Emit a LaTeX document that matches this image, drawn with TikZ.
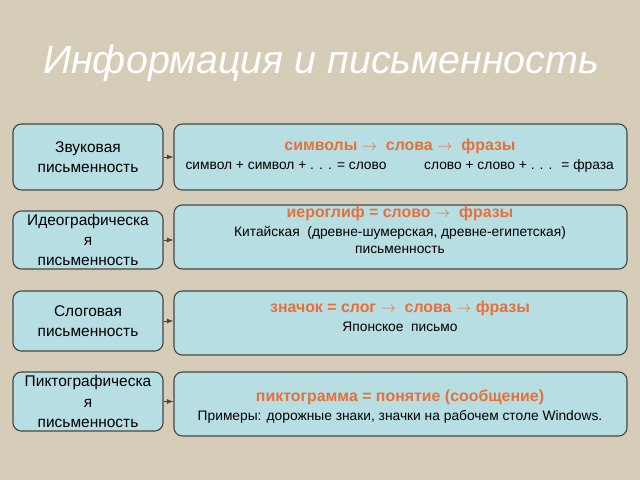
\documentclass[tikz,border=0pt]{standalone}
\usepackage{fontspec}
\setmainfont{Liberation Sans}
\usetikzlibrary{positioning}
\definecolor{paper}{RGB}{214,205,184}
\definecolor{boxfill}{RGB}{182,222,227}
\definecolor{boxline}{RGB}{70,70,70}
\definecolor{hl}{RGB}{232,112,56}
\tikzset{
  kind/.style={draw=boxline, fill=boxfill, line width=0.8pt, rounded corners=6pt,
    minimum width=3.75cm, inner sep=0pt, align=center, font=\fontsize{11}{14.5}\selectfont},
  info/.style={draw=boxline, fill=boxfill, line width=0.8pt, rounded corners=6pt,
    minimum width=11.325cm, inner sep=0pt},
  head/.style={text=hl, font=\fontsize{11.3}{13}\selectfont\bfseries},
  note/.style={align=center, font=\fontsize{9.8}{12.5}\selectfont},
  link/.style={line width=0.6pt, draw=boxline, -latex}
}
\begin{document}
\begin{tikzpicture}[x=0.025cm, y=-0.025cm]
\fill[paper] (0,0) rectangle (640,480);
\node[white, font=\fontsize{28}{30}\selectfont\itshape] (title) at (321,63) {Информация и письменность};
% rows
\node[kind, minimum height=1.65cm] (z1) at (88,157) {Звуковая\\письменность};
\node[info, minimum height=1.65cm] (r1) at (400.5,157) {};
\node[kind, minimum height=1.45cm] (z2) at (88,240) {Идеографическа\\я\\письменность};
\node[info, minimum height=1.6cm] (r2) at (400.5,237) {};
\node[kind, minimum height=1.5cm] (z3) at (88,321) {Слоговая\\письменность};
\node[info, minimum height=1.6cm] (r3) at (400.5,323) {};
\node[kind, minimum height=1.475cm] (z4) at (88,401.5) {Пиктографическа\\я\\письменность};
\node[info, minimum height=1.6cm] (r4) at (400.5,404) {};
% texts
\node[head] (h1) at (400,146) {символы $\rightarrow$ \ слова $\rightarrow$ \ фразы};
\node[note] (n1a) at (286,166) {символ + символ + . . . = слово};
\node[note] (n1b) at (519,166) {слово + слово + . . . \ = фраза};
\node[head] (h2) at (400,213) {иероглиф = слово $\rightarrow$ \ фразы};
\node[note] (n2) at (400,240) {Китайская \ (древне-шумерская, древне-египетская)\\письменность};
\node[head] (h3) at (400,308) {значок = слог $\rightarrow$ \ слова $\rightarrow$ фразы};
\node[note] (n3) at (400,327) {Японское \ письмо};
\node[head] (h4) at (400,397) {пиктограмма = понятие (сообщение)};
\node[note] (n4) at (400,417) {Примеры: дорожные знаки, значки на рабочем столе Windows.};
% links
\foreach \i in {1,...,4}
  \draw[link] (z\i.east) -- (z\i.east -| r\i.west);
\end{tikzpicture}
\end{document}
